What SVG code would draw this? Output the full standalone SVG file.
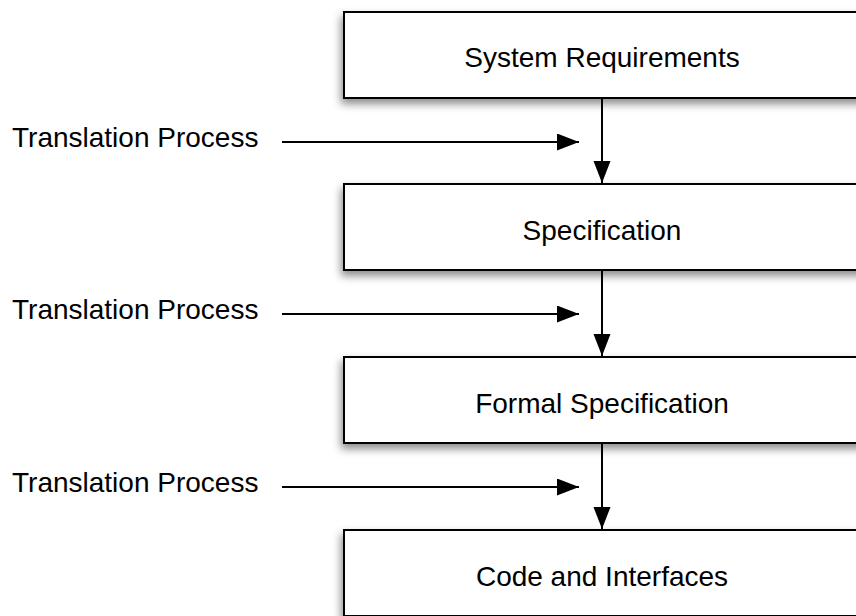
<svg xmlns="http://www.w3.org/2000/svg" width="856" height="616" viewBox="0 0 856 616">
<defs>
<filter id="sh" x="-10%" y="-20%" width="120%" height="160%">
<feDropShadow dx="-2" dy="5" stdDeviation="4" flood-color="#000" flood-opacity="0.45"/>
</filter>
<marker id="ah" markerWidth="24" markerHeight="18" refX="22" refY="8.5" orient="auto" markerUnits="userSpaceOnUse">
<path d="M0,0 L22,8.5 L0,17 Z" fill="#000"/>
</marker>
<style>
.box{fill:#fff;stroke:#000;stroke-width:2}
.t{font-family:"Liberation Sans",Arial,sans-serif;font-size:28px;fill:#000}
.c{text-anchor:middle}
.ln{stroke:#000;stroke-width:2;fill:none}
</style>
</defs>
<g id="n1"><rect class="box" x="344" y="12" width="530" height="86" filter="url(#sh)"/><text class="t c" x="602" y="67">System Requirements</text></g>
<g id="n2"><rect class="box" x="344" y="184" width="530" height="86" filter="url(#sh)"/><text class="t c" x="602" y="240">Specification</text></g>
<g id="n3"><rect class="box" x="344" y="357" width="530" height="86" filter="url(#sh)"/><text class="t c" x="602" y="413">Formal Specification</text></g>
<g id="n4"><rect class="box" x="344" y="530" width="530" height="86" filter="url(#sh)"/><text class="t c" x="602" y="586">Code and Interfaces</text></g>
<g id="l1"><text class="t" x="12" y="147">Translation Process</text></g>
<g id="l2"><text class="t" x="12" y="319">Translation Process</text></g>
<g id="l3"><text class="t" x="12" y="492">Translation Process</text></g>
<g id="connectors">
<line class="ln" x1="602" y1="98" x2="602" y2="183" marker-end="url(#ah)"/>
<line class="ln" x1="602" y1="270" x2="602" y2="356" marker-end="url(#ah)"/>
<line class="ln" x1="602" y1="443" x2="602" y2="529" marker-end="url(#ah)"/>
<line class="ln" x1="282" y1="142" x2="579" y2="142" marker-end="url(#ah)"/>
<line class="ln" x1="282" y1="314" x2="579" y2="314" marker-end="url(#ah)"/>
<line class="ln" x1="282" y1="487" x2="579" y2="487" marker-end="url(#ah)"/>
</g>
</svg>
